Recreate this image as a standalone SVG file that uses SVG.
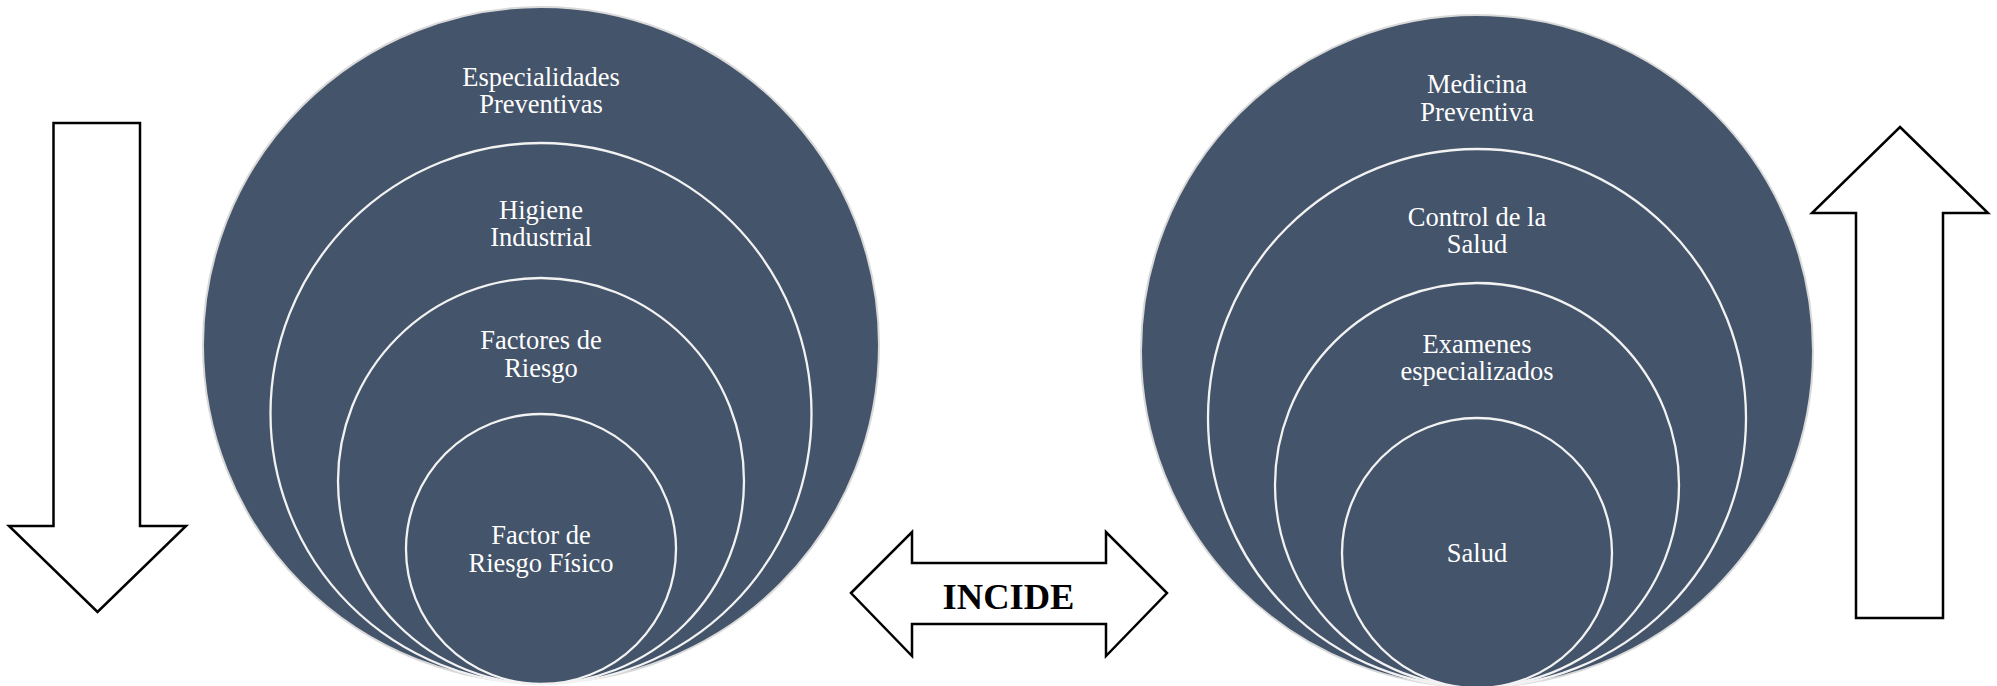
<svg xmlns="http://www.w3.org/2000/svg" width="1997" height="686" viewBox="0 0 1997 686">
<style>
.outer{fill:#44546A;stroke:#d9d9d9;stroke-width:2}
.ring{fill:#44546A;stroke:#f2f2f2;stroke-width:2.3}
.lbl{font-family:"Liberation Serif","Times New Roman",serif;font-size:26.5px;fill:#ffffff;text-anchor:middle}
.arrow{fill:#ffffff;stroke:#000000;stroke-width:2.5;stroke-linejoin:miter}
.big{font-family:"Liberation Serif","Times New Roman",serif;font-size:36.5px;font-weight:bold;fill:#000000;text-anchor:middle}
</style>
<rect width="1997" height="686" fill="#ffffff"/>
<g id="left">
  <g id="especialidades">
    <circle class="outer" cx="541" cy="345" r="338"/>
    <text class="lbl" x="541" y="86">Especialidades</text>
    <text class="lbl" x="541" y="113">Preventivas</text>
  </g>
  <g id="higiene">
    <circle class="ring" cx="541" cy="413.5" r="270.5"/>
    <text class="lbl" x="541" y="219">Higiene</text>
    <text class="lbl" x="541" y="246">Industrial</text>
  </g>
  <g id="factores">
    <circle class="ring" cx="541" cy="481" r="203"/>
    <text class="lbl" x="541" y="349">Factores de</text>
    <text class="lbl" x="541" y="377">Riesgo</text>
  </g>
  <g id="fisico">
    <circle class="ring" cx="541" cy="549" r="135"/>
    <text class="lbl" x="541" y="544">Factor de</text>
    <text class="lbl" x="541" y="572">Riesgo Físico</text>
  </g>
</g>
<g id="right">
  <g id="medicina">
    <circle class="outer" cx="1477" cy="351" r="336"/>
    <text class="lbl" x="1477" y="93">Medicina</text>
    <text class="lbl" x="1477" y="121">Preventiva</text>
  </g>
  <g id="control">
    <circle class="ring" cx="1477" cy="418" r="269"/>
    <text class="lbl" x="1477" y="226">Control de la</text>
    <text class="lbl" x="1477" y="253">Salud</text>
  </g>
  <g id="examenes">
    <circle class="ring" cx="1477" cy="485" r="202"/>
    <text class="lbl" x="1477" y="353">Examenes</text>
    <text class="lbl" x="1477" y="380">especializados</text>
  </g>
  <g id="salud">
    <circle class="ring" cx="1477" cy="553" r="135"/>
    <text class="lbl" x="1477" y="562">Salud</text>
  </g>
</g>
<g id="connectors">
  <polygon id="down-arrow" class="arrow" points="53.5,123 140,123 140,526 186,526 97.5,612 9,526 53.5,526"/>
  <polygon id="up-arrow" class="arrow" points="1900,127 1988,213 1943,213 1943,618 1856,618 1856,213 1812,213"/>
  <g id="incide">
    <polygon class="arrow" points="851,593 912,532 912,563 1106,563 1106,532 1167,593 1106,656 1106,624 912,624 912,656"/>
    <text class="big" x="1008.5" y="609">INCIDE</text>
  </g>
</g>
</svg>
